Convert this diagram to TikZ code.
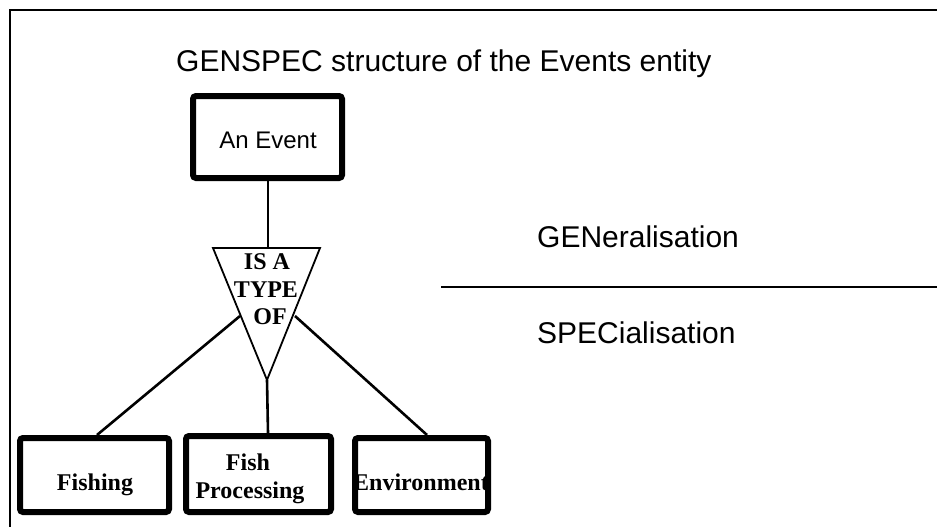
\documentclass[tikz,border=0pt]{standalone}
\usepackage{fontspec}
\setmainfont{Liberation Sans}
\newfontfamily\serifb{Liberation Serif}
\begin{document}
\begin{tikzpicture}[x=1pt,y=-1pt,
  ent/.style={draw, line width=6pt, rounded corners=3pt, fill=white},
  conn/.style={draw, line width=2.6pt},
  lbl/.style={font=\fontsize{30}{34}\selectfont, inner sep=0pt, anchor=base west},
  tri/.style={font=\serifb\bfseries\fontsize{24}{26}\selectfont, inner sep=0pt, anchor=base}]
\useasboundingbox (0,0) rectangle (937,527);
\draw[line width=2pt] (10,527) -- (10,10) -- (937,10);
\node[lbl] (title) at (176,72) {GENSPEC structure of the Events entity};
% An Event
\draw[ent] (193,96) rectangle (342,178);
\node[font=\fontsize{24}{26}\selectfont, inner sep=0pt, anchor=base] (ev) at (268,148) {An Event};
\coordinate (evb) at (268,181);
% triangle
\coordinate (tA) at (213,248);
\coordinate (tB) at (320,248);
\coordinate (tC) at (267,380);
\coordinate (ttop) at (268,248);
\draw[line width=1.8pt, fill=white] (tA) -- (tB) -- (tC) -- cycle;
\draw[line width=1.4pt] (evb) -- (ttop);
\node[tri] (t1) at (267,269) {IS A};
\node[tri] (t2) at (266,297) {TYPE};
\node[tri] (t3) at (270,324) {OF};
% bottom boxes
\draw[ent] (20,438) rectangle (169,512);
\draw[ent] (186,436) rectangle (331,512);
\draw[ent] (355,438) rectangle (488,512);
\node[tri] (fish) at (95,490) {Fishing};
\node[tri] (fp1) at (248,470) {Fish};
\node[tri] (fp2) at (250,498) {Processing};
\node[tri] (env) at (421,490) {Environment};
\coordinate (fishtop) at (97,435);
\coordinate (fptop) at (268,433);
\coordinate (envtop) at (427,435);
\coordinate (tl) at (240,316);
\coordinate (tr) at (295,316);
\draw[conn] (tl) -- (fishtop);
\draw[conn] (tr) -- (envtop);
\draw[conn] (tC) -- (fptop);
% right side
\draw[line width=2pt] (441,287) -- (937,287);
\node[lbl] (gen) at (537,247) {GENeralisation};
\node[lbl] (spec) at (537,343) {SPECialisation};
\end{tikzpicture}
\end{document}
